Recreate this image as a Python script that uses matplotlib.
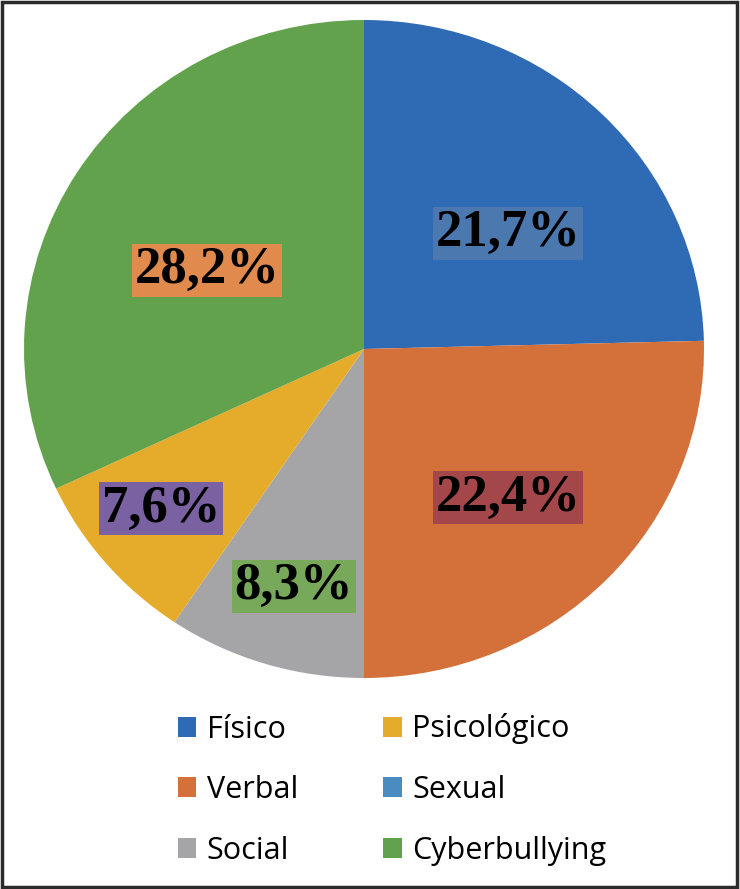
import numpy as np
import matplotlib.pyplot as plt
from matplotlib.patches import Rectangle

# tipos de acoso escolar (porcentajes)
categories = ["Físico", "Verbal", "Social", "Psicológico", "Sexual", "Cyberbullying"]
values = [21.7, 22.4, 8.3, 7.6, 0.0, 28.2]
value_labels = ["21,7%", "22,4%", "8,3%", "7,6%", "", "28,2%"]

slice_colors = ["#2E6BB4", "#D4713A", "#A5A5A7", "#E5AB2A", "#4A8CC2", "#62A24C"]
label_bg = ["#4C78B0", "#A4474B", "#78A85A", "#7A62A2", "#4A8CC2", "#E08A4E"]
# label placement: radius fraction and angle nudge (deg) from slice middle
label_dist = [0.55, 0.62, 0.75, 0.77, 0.6, 0.52]
label_nudge = [-6, -2.5, 1, -1.5, 0, 5]

fig = plt.figure(figsize=(7.4, 8.89), dpi=100)

ax = fig.add_axes([24 / 740, 1 - 678 / 889, 680 / 740, 658 / 889])
wedges, _ = ax.pie(values, colors=slice_colors, startangle=90, counterclock=False,
                   wedgeprops=dict(linewidth=0))
ax.set_aspect("auto")
ax.set_xlim(-1, 1)
ax.set_ylim(-1, 1)

for w, txt, d, nd, bg in zip(wedges, value_labels, label_dist, label_nudge, label_bg):
    if not txt:
        continue
    ang = np.deg2rad((w.theta1 + w.theta2) / 2 + nd)
    ax.text(d * np.cos(ang), d * np.sin(ang), txt, ha="center", va="center",
            fontsize=38, fontweight="bold", family="Liberation Serif",
            bbox=dict(boxstyle="square,pad=0.05", facecolor=bg, edgecolor="none"))

leg = fig.legend(wedges, categories, ncol=2, loc="upper left",
                 bbox_to_anchor=(150 / 740, 1 - 686 / 889), frameon=False,
                 prop=dict(family="Open Sans", size=22), handlelength=0.62, handleheight=0.62,
                 handletextpad=0.33, labelspacing=1.0, columnspacing=2.8)

fig.patches.append(Rectangle((2 / 740, 2 / 889), 735 / 740, 885 / 889, transform=fig.transFigure,
                             fill=False, edgecolor="#2b2b2b", linewidth=2.5))

plt.savefig("out.png", dpi=100)
